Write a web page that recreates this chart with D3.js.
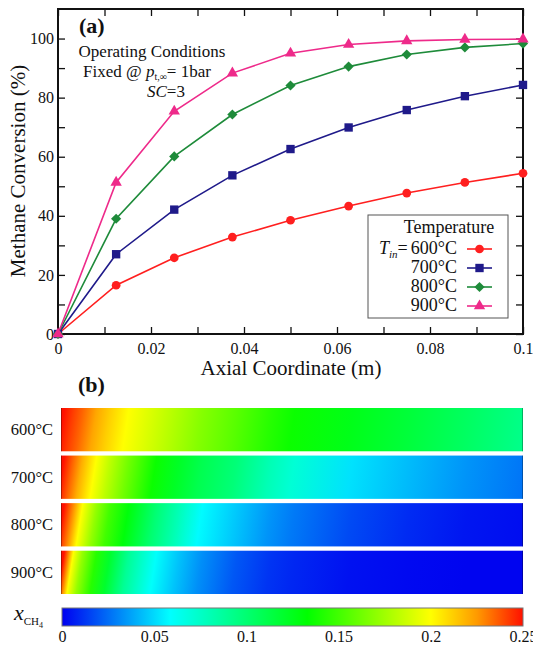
<!DOCTYPE html>
<html>
<head>
<meta charset="utf-8">
<script src="https://cdn.jsdelivr.net/npm/d3@7"></script>
<style>
body { margin: 0; background: #fff; }
text { font-family: "Liberation Serif", "Times New Roman", serif; fill: #111; }
</style>
</head>
<body>
<svg id="chart" width="533" height="645"></svg>
<script>
// ---- panel (a): methane conversion vs axial coordinate
const axialPos = [0, 0.0125, 0.025, 0.0375, 0.05, 0.0625, 0.075, 0.0875, 0.1];
const temps = ["600°C", "700°C", "800°C", "900°C"];
const conv600 = [0, 16.5, 25.8, 32.8, 38.5, 43.3, 47.7, 51.3, 54.4];
const conv700 = [0, 27.0, 42.1, 53.7, 62.6, 69.9, 75.8, 80.5, 84.3];
const conv800 = [0, 39.0, 60.1, 74.3, 84.1, 90.5, 94.6, 97.0, 98.3];
const conv900 = [0, 51.3, 75.4, 88.3, 95.0, 98.0, 99.2, 99.7, 99.8];
const xTicks = [0, 0.02, 0.04, 0.06, 0.08, 0.1];
const yTicks = [0, 20, 40, 60, 80, 100];

// ---- panel (b): CH4 mole fraction along the reactor
const mapPos = [0, 0.002, 0.004, 0.007, 0.01, 0.014, 0.02, 0.025, 0.03, 0.0375, 0.045, 0.05, 0.0625, 0.075, 0.0875, 0.1];
const xch4_600 = [0.25, 0.242, 0.235, 0.222, 0.212, 0.2, 0.188, 0.178, 0.168, 0.156, 0.143, 0.136, 0.126, 0.116, 0.105, 0.093];
const xch4_700 = [0.25, 0.235, 0.22, 0.2, 0.183, 0.163, 0.136, 0.122, 0.11, 0.098, 0.08, 0.071, 0.052, 0.043, 0.034, 0.027];
const xch4_800 = [0.25, 0.228, 0.2, 0.172, 0.15, 0.13, 0.1, 0.08, 0.058, 0.046, 0.034, 0.028, 0.017, 0.01, 0.005, 0.003];
const xch4_900 = [0.25, 0.2, 0.172, 0.143, 0.12, 0.09, 0.06, 0.045, 0.033, 0.02, 0.012, 0.009, 0.004, 0.002, 0.001, 0.001];
const cbTicks = [0, 0.05, 0.1, 0.15, 0.2, 0.25];

const svg = d3.select("#chart");

const colors = ["#ff1f1f", "#1f1a8a", "#1e8b3a", "#ee2a8a"];
const shapes = [d3.symbolCircle, d3.symbolSquare, d3.symbolSquare, d3.symbolTriangle];
const sizes = [60, 70, 52, 56];
const rotations = [0, 0, 45, 0];
const series = [conv600, conv700, conv800, conv900];

// scales for (a)
const x = d3.scaleLinear().domain([0, 0.1]).range([58, 523]);
const y = d3.scaleLinear().domain([0, 110]).range([334, 9]);

const pa = svg.append("g");

// axes with inward ticks
const minorX = d3.range(0, 0.1001, 0.01);
const minorY = d3.range(0, 101, 10);
const fmtX = d => (xTicks.some(t => Math.abs(t - d) < 1e-9) ? (d === 0 ? "0" : String(+d.toFixed(2))) : "");
const fmtY = d => (yTicks.includes(Math.round(d)) ? String(Math.round(d)) : "");

const axB = pa.append("g").attr("transform", "translate(0,334)")
  .call(d3.axisBottom(x).tickValues(minorX).tickSizeInner(-7).tickSizeOuter(0).tickPadding(9).tickFormat(fmtX));
const axT = pa.append("g").attr("transform", "translate(0,9)")
  .call(d3.axisTop(x).tickValues(minorX).tickSizeInner(-7).tickSizeOuter(0).tickFormat(""));
const axL = pa.append("g").attr("transform", "translate(58,0)")
  .call(d3.axisLeft(y).tickValues(minorY).tickSizeInner(-7).tickSizeOuter(0).tickPadding(4).tickFormat(fmtY));
const axR = pa.append("g").attr("transform", "translate(523,0)")
  .call(d3.axisRight(y).tickValues(minorY).tickSizeInner(-7).tickSizeOuter(0).tickFormat(""));

[axB, axT, axL, axR].forEach(a => {
  a.attr("font-family", null);
  a.select(".domain").remove();
  a.selectAll(".tick line").attr("stroke", "#111").attr("stroke-width", 1.3);
  a.selectAll("text").style("font-family", "'Liberation Serif', serif").style("font-size", "16px").attr("fill", "#111");
});

// frame
pa.append("rect").attr("x", 58).attr("y", 9).attr("width", 465).attr("height", 325)
  .attr("fill", "none").attr("stroke", "#111").attr("stroke-width", 2);

// lines and markers
const line = d3.line().x((d, i) => x(axialPos[i])).y(d => y(d));
series.forEach((s, k) => {
  pa.append("path").datum(s).attr("d", line)
    .attr("fill", "none").attr("stroke", colors[k]).attr("stroke-width", 1.6);
});
series.forEach((s, k) => {
  pa.selectAll(null).data(s).enter().append("path")
    .attr("d", d3.symbol().type(shapes[k]).size(sizes[k]))
    .attr("transform", (d, i) => "translate(" + x(axialPos[i]) + "," + y(d) + ") rotate(" + rotations[k] + ")")
    .attr("fill", colors[k]);
});

// axis titles
pa.append("text").attr("x", 291).attr("y", 375).attr("text-anchor", "middle")
  .style("font-size", "21px").text("Axial Coordinate (m)");
pa.append("text").attr("transform", "translate(25,171) rotate(-90)").attr("text-anchor", "middle")
  .style("font-size", "21px").text("Methane Conversion (%)");

// annotations
pa.append("text").attr("x", 79).attr("y", 33).style("font-size", "22px").style("font-weight", "bold").text("(a)");
pa.append("text").attr("x", 152).attr("y", 57).attr("text-anchor", "middle").style("font-size", "17px").text("Operating Conditions");
const fx = pa.append("text").attr("x", 83).attr("y", 77).style("font-size", "17px");
fx.append("tspan").text("Fixed @ ");
fx.append("tspan").style("font-style", "italic").text("p");
fx.append("tspan").attr("dy", 3).style("font-size", "10px").text("t,∞");
fx.append("tspan").attr("dy", -3).text("= 1bar");
const sc = pa.append("text").attr("x", 147).attr("y", 97).style("font-size", "17px");
sc.append("tspan").style("font-style", "italic").text("SC");
sc.append("tspan").text("=3");

// legend
const lg = pa.append("g");
lg.append("rect").attr("x", 368).attr("y", 215).attr("width", 140).attr("height", 103)
  .attr("fill", "#fff").attr("stroke", "#555").attr("stroke-width", 1);
lg.append("text").attr("x", 449).attr("y", 233).attr("text-anchor", "middle").style("font-size", "18px").text("Temperature");
const tin = lg.append("text").attr("x", 379).attr("y", 254).style("font-size", "18px");
tin.append("tspan").style("font-style", "italic").text("T");
tin.append("tspan").attr("dy", 4).style("font-size", "11px").style("font-style", "italic").text("in");
tin.append("tspan").attr("dy", -4).text("=");
temps.forEach((t, k) => {
  const by = 254 + k * 19;
  lg.append("text").attr("x", 457).attr("y", by).attr("text-anchor", "end").style("font-size", "18px").text(t);
  lg.append("line").attr("x1", 467).attr("x2", 492).attr("y1", by - 5).attr("y2", by - 5)
    .attr("stroke", colors[k]).attr("stroke-width", 1.6);
  lg.append("path").attr("d", d3.symbol().type(shapes[k]).size(sizes[k]))
    .attr("transform", "translate(479.5," + (by - 5) + ") rotate(" + rotations[k] + ")")
    .attr("fill", colors[k]);
});

// ---- panel (b)
const cmap = d3.scaleLinear()
  .domain([0, 0.0587, 0.133, 0.2, 0.225, 0.25])
  .range(["#0000f0", "#00ffff", "#00ff00", "#ffff00", "#ff9a00", "#ff1000"]);

const xb = d3.scaleLinear().domain([0, 0.1]).range([61, 523]);
const rows = d3.scaleBand().domain(temps).range([408, 594]).paddingInner(0.09);
const maps = [xch4_600, xch4_700, xch4_800, xch4_900];

const defs = svg.append("defs");
const pb = svg.append("g");

pb.append("text").attr("x", 78).attr("y", 392).style("font-size", "22px").style("font-weight", "bold").text("(b)");

const skew = -9;
const tk = Math.tan(skew * Math.PI / 180);
temps.forEach((t, k) => {
  const top = rows(t), h = rows.bandwidth(), cy = top + h / 2;
  const g = defs.append("linearGradient").attr("id", "grad" + k)
    .attr("gradientUnits", "userSpaceOnUse")
    .attr("x1", xb(0)).attr("x2", xb(0.1)).attr("y1", 0).attr("y2", 0)
    .attr("gradientTransform", "translate(" + (-tk * cy) + ",0) skewX(" + skew + ")");
  g.selectAll("stop").data(maps[k]).enter().append("stop")
    .attr("offset", (d, i) => mapPos[i] / 0.1)
    .attr("stop-color", d => cmap(d));
  pb.append("rect").attr("x", xb(0)).attr("y", top).attr("width", xb(0.1) - xb(0)).attr("height", h)
    .attr("fill", "url(#grad" + k + ")");
  // thin darker edges at inlet and outlet
  [xb(0) + 0.5, xb(0.1) - 0.5].forEach(ex => {
    pb.append("line").attr("x1", ex).attr("x2", ex).attr("y1", top).attr("y2", top + h)
      .attr("stroke", "#000").attr("stroke-opacity", 0.3).attr("stroke-width", 1);
  });
  pb.append("text").attr("x", 53).attr("y", cy + 5.5).attr("text-anchor", "end").style("font-size", "16.5px").text(t);
});

// colour bar
const xc = d3.scaleLinear().domain([0, 0.25]).range([62, 523]);
const cg = defs.append("linearGradient").attr("id", "cbar").attr("x1", 0).attr("x2", 1).attr("y1", 0).attr("y2", 0);
cg.selectAll("stop").data(cmap.domain()).enter().append("stop")
  .attr("offset", d => d / 0.25).attr("stop-color", d => cmap(d));
pb.append("rect").attr("x", xc(0)).attr("y", 608).attr("width", xc(0.25) - xc(0)).attr("height", 18)
  .attr("fill", "url(#cbar)").attr("stroke", "#777").attr("stroke-width", 1);
const cax = pb.append("g").attr("transform", "translate(0,626)")
  .call(d3.axisBottom(xc).tickValues(cbTicks).tickSize(0).tickPadding(5).tickFormat(d => String(d)));
cax.attr("font-family", null);
cax.select(".domain").remove();
cax.selectAll("text").style("font-family", "'Liberation Serif', serif").style("font-size", "16px").attr("fill", "#111");

const xl = pb.append("text").attr("x", 14).attr("y", 620).style("font-size", "22px");
xl.append("tspan").style("font-style", "italic").text("x");
xl.append("tspan").attr("dy", 5).style("font-size", "11px").text("CH");
xl.append("tspan").attr("dy", 3).style("font-size", "8px").text("4");
</script>
</body>
</html>
